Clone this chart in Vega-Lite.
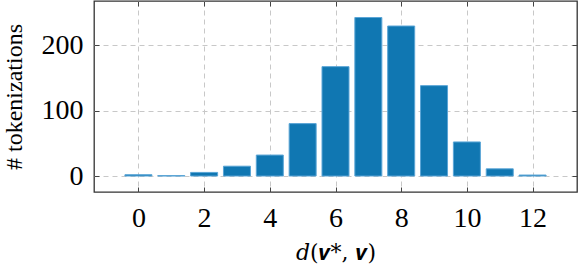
{
  "$schema": "https://vega.github.io/schema/vega-lite/v6.json",
  "width": 483,
  "height": 191,
  "autosize": "none",
  "padding": {"left": 94, "top": 1, "right": 1, "bottom": 74},
  "config": {
    "view": {"stroke": "#333333", "strokeWidth": 1.3},
    "font": "Liberation Serif",
    "axis": {
      "grid": true,
      "gridColor": "#c8c8c8",
      "gridDash": [5, 4],
      "gridWidth": 1,
      "domain": false,
      "tickColor": "#444444",
      "tickSize": -5,
      "tickWidth": 1,
      "labelFont": "Liberation Serif",
      "labelFontSize": 28,
      "labelColor": "#000000",
      "titleFont": "Liberation Serif",
      "titleFontWeight": "normal",
      "titleColor": "#000000"
    }
  },
  "data": {
    "values": [
      {"d": 0, "count": 2},
      {"d": 1, "count": 0.6},
      {"d": 2, "count": 5.5},
      {"d": 3, "count": 15},
      {"d": 4, "count": 32},
      {"d": 5, "count": 80},
      {"d": 6, "count": 167},
      {"d": 7, "count": 242},
      {"d": 8, "count": 229},
      {"d": 9, "count": 138},
      {"d": 10, "count": 52},
      {"d": 11, "count": 11},
      {"d": 12, "count": 1.5}
    ]
  },
  "layer": [
    {
      "mark": {"type": "bar", "size": 27, "fill": "#1077b2", "stroke": "#5aa5d6", "strokeWidth": 1},
      "encoding": {
        "x": {
          "field": "d", "type": "quantitative",
          "scale": {"domain": [-1.2, 13.2], "nice": false, "zero": false},
          "axis": {"orient": "bottom", "values": [0, 2, 4, 6, 8, 10, 12], "labelPadding": 17, "title": "𝑑(𝒗*, 𝒗)", "titleFont": "DejaVu Serif", "titleFontSize": 22, "titlePadding": 10}
        },
        "y": {
          "field": "count", "type": "quantitative",
          "scale": {"domain": [-24.4, 267.2], "nice": false},
          "axis": {"orient": "left", "values": [0, 100, 200], "labelPadding": 16, "title": "# tokenizations", "titleFontSize": 24, "titleAnchor": "middle", "titlePadding": 15}
        }
      }
    },
    {
      "mark": {"type": "bar", "size": 27, "opacity": 0},
      "encoding": {
        "x": {
          "field": "d", "type": "quantitative",
          "axis": {"orient": "top", "values": [0, 2, 4, 6, 8, 10, 12], "labels": false, "grid": false, "title": null}
        },
        "y": {
          "field": "count", "type": "quantitative",
          "axis": {"orient": "right", "values": [0, 100, 200], "labels": false, "grid": false, "title": null}
        }
      }
    }
  ],
  "resolve": {"axis": {"x": "independent", "y": "independent"}}
}
